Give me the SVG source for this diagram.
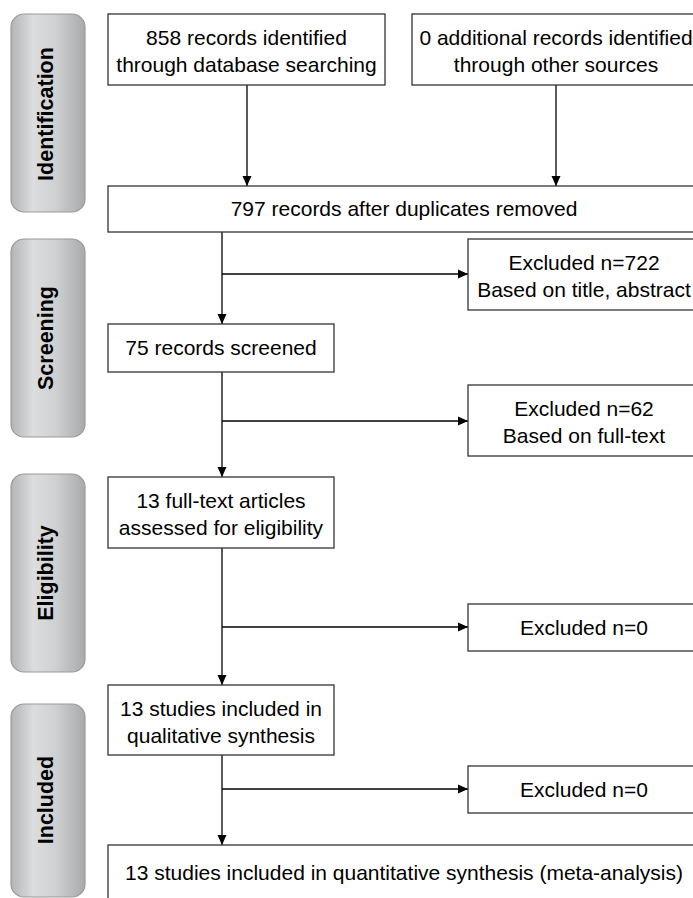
<svg xmlns="http://www.w3.org/2000/svg" width="693" height="898" viewBox="0 0 693 898">
<defs>
<linearGradient id="side" x1="0" y1="0" x2="1" y2="0">
<stop offset="0" stop-color="#b4b4b6"/>
<stop offset="0.3" stop-color="#dcdddf"/>
<stop offset="0.6" stop-color="#cfd0d2"/>
<stop offset="1" stop-color="#a9aaac"/>
</linearGradient>
<marker id="arr" viewBox="0 0 10 10" refX="10" refY="5" markerWidth="10" markerHeight="10" markerUnits="userSpaceOnUse" orient="auto">
<path d="M0,0.5 L10,5 L0,9.5 Z" fill="#000"/>
</marker>
</defs>
<style>
.side{fill:url(#side);stroke:#9a9a9a;stroke-width:1.2}
.box{fill:#fff;stroke:#333;stroke-width:1.3}
.t{font-family:"Liberation Sans",Arial,sans-serif;font-size:21px;fill:#000;text-anchor:middle}
.s{font-family:"Liberation Sans",Arial,sans-serif;font-size:21.5px;font-weight:bold;fill:#000;text-anchor:middle}
.c{fill:none;stroke:#000;stroke-width:1.3}
</style>
<g id="stage-identification"><rect class="side" x="11" y="14" width="74" height="198" rx="13"/><text class="s" transform="translate(53,114) rotate(-90)">Identification</text></g>
<g id="stage-screening"><rect class="side" x="11" y="239" width="74" height="198" rx="13"/><text class="s" transform="translate(53,338) rotate(-90)">Screening</text></g>
<g id="stage-eligibility"><rect class="side" x="11" y="474" width="74" height="198" rx="13"/><text class="s" transform="translate(53,573) rotate(-90)">Eligibility</text></g>
<g id="stage-included"><rect class="side" x="11" y="704" width="74" height="193" rx="13"/><text class="s" transform="translate(53,800) rotate(-90)">Included</text></g>
<g id="connectors">
<line class="c" x1="247" y1="85" x2="247" y2="186" marker-end="url(#arr)"/>
<line class="c" x1="556" y1="85" x2="556" y2="186" marker-end="url(#arr)"/>
<line class="c" x1="222" y1="232" x2="222" y2="324" marker-end="url(#arr)"/>
<line class="c" x1="222" y1="274" x2="468" y2="274" marker-end="url(#arr)"/>
<line class="c" x1="222" y1="372" x2="222" y2="477" marker-end="url(#arr)"/>
<line class="c" x1="222" y1="421" x2="468" y2="421" marker-end="url(#arr)"/>
<line class="c" x1="222" y1="548" x2="222" y2="685" marker-end="url(#arr)"/>
<line class="c" x1="222" y1="627" x2="468" y2="627" marker-end="url(#arr)"/>
<line class="c" x1="222" y1="755" x2="222" y2="845" marker-end="url(#arr)"/>
<line class="c" x1="222" y1="789" x2="468" y2="789" marker-end="url(#arr)"/>
</g>
<g id="n-database"><rect class="box" x="108" y="14" width="277" height="71"/><text class="t" x="246.5" y="45">858 records identified</text><text class="t" x="246.5" y="72">through database searching</text></g>
<g id="n-other"><rect class="box" x="412" y="14" width="288" height="71"/><text class="t" x="556" y="45">0 additional records identified</text><text class="t" x="556" y="72">through other sources</text></g>
<g id="n-dedup"><rect class="box" x="108" y="186" width="592" height="46"/><text class="t" x="404" y="216">797 records after duplicates removed</text></g>
<g id="n-excl1"><rect class="box" x="468" y="239" width="232" height="71"/><text class="t" x="584" y="270">Excluded n=722</text><text class="t" x="584" y="297">Based on title, abstract</text></g>
<g id="n-screened"><rect class="box" x="108" y="324" width="226" height="48"/><text class="t" x="221" y="355">75 records screened</text></g>
<g id="n-excl2"><rect class="box" x="468" y="385" width="232" height="71"/><text class="t" x="584" y="416">Excluded n=62</text><text class="t" x="584" y="443">Based on full-text</text></g>
<g id="n-fulltext"><rect class="box" x="108" y="477" width="226" height="71"/><text class="t" x="221" y="508">13 full-text articles</text><text class="t" x="221" y="535">assessed for eligibility</text></g>
<g id="n-excl3"><rect class="box" x="468" y="604" width="232" height="47"/><text class="t" x="584" y="635">Excluded n=0</text></g>
<g id="n-qual"><rect class="box" x="108" y="685" width="226" height="70"/><text class="t" x="221" y="716">13 studies included in</text><text class="t" x="221" y="743">qualitative synthesis</text></g>
<g id="n-excl4"><rect class="box" x="468" y="766" width="232" height="47"/><text class="t" x="584" y="797">Excluded n=0</text></g>
<g id="n-quant"><rect class="box" x="108" y="845" width="592" height="70"/><text class="t" x="404" y="880">13 studies included in quantitative synthesis (meta-analysis)</text></g>
</svg>
